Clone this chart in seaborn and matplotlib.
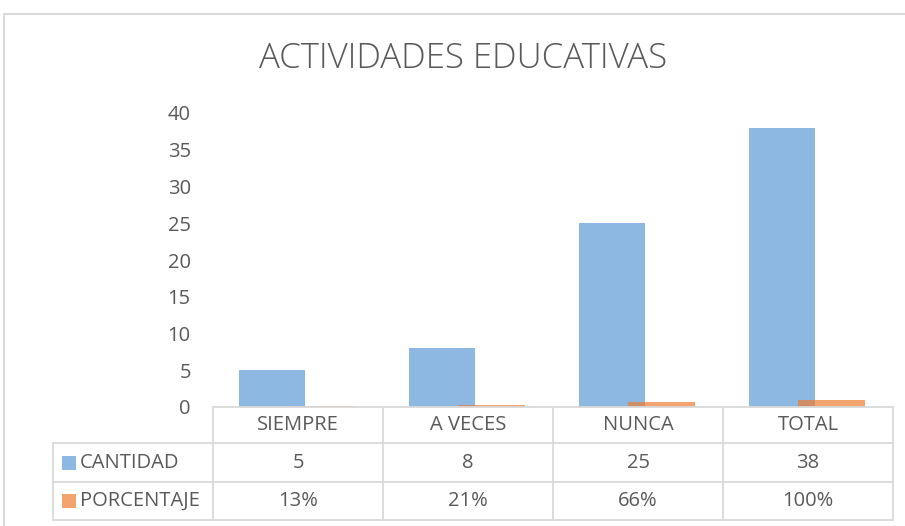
import numpy as np
import pandas as pd
import seaborn as sns
import matplotlib.pyplot as plt
from matplotlib.lines import Line2D
from matplotlib.patches import Rectangle

# Datos del grafico
categorias = ["SIEMPRE", "A VECES", "NUNCA", "TOTAL"]
cantidad = [5, 8, 25, 38]
porcentaje = [0.13, 0.21, 0.66, 1.00]
porcentaje_txt = ["13%", "21%", "66%", "100%"]
series = ["CANTIDAD", "PORCENTAJE"]
colores = ["#5B9BD5", "#ED7D31"]

df = pd.DataFrame({
    "categoria": categorias * 2,
    "serie": [series[0]] * 4 + [series[1]] * 4,
    "valor": cantidad + porcentaje,
})

sns.set_theme(style="white")
plt.rcParams["font.family"] = ["Open Sans", "DejaVu Sans"]

W, H = 905, 526
gris = "#595959"
linea = "#D9D9D9"
fs = 14.5


def fx(px):
    return px / W


def fy(py):
    return 1 - py / H


fig = plt.figure(figsize=(W / 100, H / 100), dpi=100)
ax = fig.add_axes([fx(213), fy(407), fx(893) - fx(213), fy(113) - fy(407)])

sns.barplot(data=df, x="categoria", y="valor", hue="serie", palette=colores,
            errorbar=None, width=0.8, alpha=0.7, saturation=1,
            legend=False, ax=ax)

# Ajuste de ancho y solapamiento de las barras (estilo Excel)
offsets = [-0.153, 0.141]
ancho = 0.394
for i, cont in enumerate(ax.containers):
    for j, p in enumerate(cont.patches):
        p.set_width(ancho)
        p.set_x(j + offsets[i] - ancho / 2)
        p.set_linewidth(0)

ax.set_xlim(-0.5, 3.5)
ax.set_ylim(0, 40)
ax.set_yticks(range(0, 41, 5))
ax.set_xticks([])
ax.set_xlabel("")
ax.set_ylabel("")
ax.tick_params(axis="y", length=0, pad=16, labelsize=fs, labelcolor=gris)
sns.despine(ax=ax, left=True, bottom=True)

# Tabla de datos dibujada debajo del eje
tr = ax.get_xaxis_transform()
alto_ax = 407 - 113


def ay(py):
    return (407 - py) / alto_ax


def dx(px):
    return (px - 213) / 170 - 0.5


x_bordes = [-0.5, 0.5, 1.5, 2.5, 3.5]
x_izq = dx(53)

ax.add_line(Line2D([-0.5, 3.5], [ay(407), ay(407)], transform=tr,
                   color=linea, lw=1.3, clip_on=False))
for py in [443, 482, 520]:
    ax.add_line(Line2D([x_izq, 3.5], [ay(py), ay(py)], transform=tr,
                       color=linea, lw=1.3, clip_on=False))
for xb in x_bordes:
    ax.add_line(Line2D([xb, xb], [ay(407), ay(520)], transform=tr,
                       color=linea, lw=1.3, clip_on=False))
ax.add_line(Line2D([x_izq, x_izq], [ay(443), ay(520)], transform=tr,
                   color=linea, lw=1.3, clip_on=False))

for j, cat in enumerate(categorias):
    ax.text(j, ay(425), cat, transform=tr, ha="center", va="center",
            fontsize=fs, color=gris)
    ax.text(j, ay(463), str(cantidad[j]), transform=tr, ha="center",
            va="center", fontsize=fs, color=gris)
    ax.text(j, ay(501), porcentaje_txt[j], transform=tr, ha="center",
            va="center", fontsize=fs, color=gris)

for k, (nombre, yc) in enumerate(zip(series, [463, 501])):
    ax.add_patch(Rectangle((dx(62), ay(yc + 7)), dx(76) - dx(62), 14 / alto_ax,
                           transform=tr, facecolor=colores[k], alpha=0.7,
                           lw=0, clip_on=False))
    ax.text(dx(80), ay(yc), nombre, transform=tr, ha="left", va="center",
            fontsize=fs, color=gris)

# Titulo y borde del area del grafico
fig.text(fx(463), fy(59), "ACTIVIDADES EDUCATIVAS", ha="center", va="center",
         fontsize=25, color=gris, fontweight="light")
fig.add_artist(Line2D([fx(4), 1], [fy(14), fy(14)], color=linea, lw=1.5))
fig.add_artist(Line2D([fx(4), fx(4)], [fy(14), 0], color=linea, lw=1.5))

fig.savefig("out.png", dpi=100)
